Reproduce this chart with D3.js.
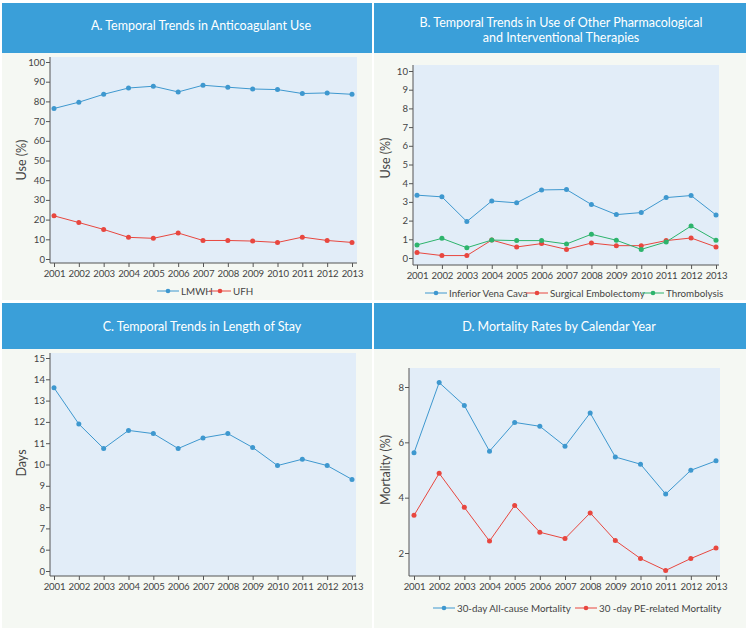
<!DOCTYPE html>
<html><head><meta charset="utf-8">
<script src="https://cdn.jsdelivr.net/npm/d3@7"></script>
<style>
html,body{margin:0;padding:0;background:#ffffff;}
svg{display:block;font-family:Lato,"Open Sans",sans-serif;}
</style></head>
<body><svg id="c" width="748" height="628"></svg>
<script>
const years = [2001,2002,2003,2004,2005,2006,2007,2008,2009,2010,2011,2012,2013];

// Panel A
const lmwh = [76.4,79.6,83.6,86.8,87.7,84.8,88.2,87.2,86.3,86.0,84.0,84.3,83.6];
const ufh  = [21.9,18.5,15.0,11.0,10.5,13.2,9.4,9.4,9.1,8.4,11.1,9.4,8.4];
const ticksA = [0,10,20,30,40,50,60,70,80,90,100];

// Panel B
const ivc = [3.36,3.27,1.95,3.05,2.95,3.64,3.66,2.86,2.32,2.43,3.23,3.34,2.30];
const surgical = [0.29,0.13,0.13,0.96,0.59,0.77,0.46,0.80,0.66,0.66,0.93,1.07,0.59];
const thrombolysis = [0.70,1.05,0.55,0.96,0.93,0.93,0.75,1.27,0.95,0.46,0.86,1.71,0.95];
const ticksB = [0,1,2,3,4,5,6,7,8,9,10];

// Panel C
const stayDays = [13.6,11.9,10.75,11.6,11.45,10.75,11.25,11.45,10.8,9.95,10.25,9.95,9.3];
const ticksC = [0,6,7,8,9,10,11,12,13,14,15];

// Panel D
const allCause = [5.62,8.16,7.33,5.68,6.72,6.58,5.86,7.06,5.47,5.21,4.13,4.99,5.33];
const peRelated = [3.36,4.88,3.65,2.43,3.72,2.75,2.52,3.45,2.45,1.80,1.37,1.80,2.18];
const ticksD = [2,4,6,8];

const BLUE = "#3e98cf", RED = "#e8473f", GREEN = "#2db46c";
const HEADER = "#3a9fd9", BODY = "#f5f8f3", PLOT = "#e2edf8", AXIS = "#555", TXT = "#444";
const TICKFONT = 9.6;

const svg = d3.select("#c");

const panels = [
  {x:2, y:3, w:370, h:297, hh:50},
  {x:374, y:3, w:372, h:297, hh:50},
  {x:2, y:303, w:370, h:325, hh:46},
  {x:374, y:303, w:372, h:325, hh:46}
];
panels.forEach(p => {
  svg.append("rect").attr("x",p.x).attr("y",p.y).attr("width",p.w).attr("height",p.h).attr("fill",BODY);
  svg.append("rect").attr("x",p.x).attr("y",p.y).attr("width",p.w).attr("height",p.hh).attr("fill",HEADER);
});

function title(lines, cx, y0, dy) {
  lines.forEach((t,i) => svg.append("text").attr("x",cx).attr("y",y0+i*dy)
    .attr("text-anchor","middle").attr("fill","#fff").attr("font-size",12.5).text(t));
}
title(["A. Temporal Trends in Anticoagulant Use"], 201, 30, 0);
title(["B. Temporal Trends in Use of Other Pharmacological","and Interventional Therapies"], 561, 27, 15);
title(["C. Temporal Trends in Length of Stay"], 202, 331, 0);
title(["D. Mortality Rates by Calendar Year"], 559, 331, 0);

function styleAxes(ya, xa) {
  [ya,xa].forEach(a => {
    a.selectAll(".domain,line").attr("stroke",AXIS).attr("stroke-width",1);
    a.selectAll("text").attr("fill",TXT).attr("font-size",TICKFONT)
      .attr("font-family","Lato,'Open Sans',sans-serif");
  });
  ya.selectAll("text").attr("x",-5);
  xa.selectAll("text").attr("y",7).attr("letter-spacing",-0.15);
}

function drawPanel(cfg, y) {
  const g = svg.append("g");
  const x = d3.scaleLinear().domain([2001,2013]).range(cfg.xr);
  g.append("rect").attr("x",cfg.px[0]).attr("y",cfg.py[0])
    .attr("width",cfg.px[1]-cfg.px[0]).attr("height",cfg.py[1]-cfg.py[0]).attr("fill",PLOT);
  const ya = g.append("g").attr("transform",`translate(${cfg.px[0]},0)`)
    .call(d3.axisLeft(y).tickValues(cfg.ticks).tickSize(4).tickSizeOuter(0).tickFormat(d3.format("d")));
  ya.select(".domain").attr("d",`M0,${cfg.py[0]}V${cfg.py[1]}`);
  const xa = g.append("g").attr("transform",`translate(0,${cfg.py[1]})`)
    .call(d3.axisBottom(x).tickValues(years).tickSize(4).tickSizeOuter(0).tickFormat(d3.format("d")));
  xa.select(".domain").attr("d",`M${cfg.px[0]},0H${cfg.px[1]}`);
  styleAxes(ya, xa);
  g.append("text").attr("transform",`translate(${cfg.lab[0]},${cfg.lab[1]}) rotate(-90)`)
    .attr("text-anchor","middle").attr("fill",TXT).attr("font-size",12.5).text(cfg.ylabel);
  const line = d3.line().x((d,i)=>x(years[i])).y(d=>y(d));
  cfg.series.forEach(s => {
    g.append("path").datum(s.v).attr("d",line).attr("fill","none").attr("stroke",s.c).attr("stroke-width",1);
    g.selectAll(null).data(s.v).enter().append("circle")
      .attr("cx",(d,i)=>x(years[i])).attr("cy",d=>y(d)).attr("r",2.5).attr("fill",s.c);
  });
  (cfg.legend||[]).forEach(l => {
    g.append("line").attr("x1",l.x).attr("x2",l.x+22).attr("y1",l.y).attr("y2",l.y).attr("stroke",l.c).attr("stroke-width",1);
    g.append("circle").attr("cx",l.x+11).attr("cy",l.y).attr("r",2.3).attr("fill",l.c);
    g.append("text").attr("x",l.x+24).attr("y",l.y+3.5).attr("fill",TXT).attr("font-size",9.8).text(l.t);
  });
}

drawPanel({xr:[54,352], px:[50,357], py:[57,263], ticks:ticksA,
  ylabel:"Use (%)", lab:[26,160],
  series:[{v:lmwh,c:BLUE},{v:ufh,c:RED}],
  legend:[{x:157,y:291,c:BLUE,t:"LMWH"},{x:209,y:291,c:RED,t:"UFH"}]},
  d3.scaleLinear().domain([0,100]).range([259,62]));

drawPanel({xr:[417,716], px:[413,719], py:[65,265], ticks:ticksB,
  ylabel:"Use (%)", lab:[390,158],
  series:[{v:ivc,c:BLUE},{v:surgical,c:RED},{v:thrombolysis,c:GREEN}],
  legend:[{x:425,y:293,c:BLUE,t:"Inferior Vena Cava"},{x:526,y:293,c:RED,t:"Surgical Embolectomy"},{x:642,y:293,c:GREEN,t:"Thrombolysis"}]},
  d3.scaleLinear().domain([0,10]).range([258,71]));

// Panel C: broken axis (0, then 6..15 evenly spaced)
drawPanel({xr:[54,352], px:[50,356], py:[353,576], ticks:ticksC,
  ylabel:"Days", lab:[26,463],
  series:[{v:stayDays,c:BLUE}]},
  d3.scaleLinear().domain([0,6,15]).range([571,549.7,358]));

drawPanel({xr:[414,716], px:[409,720], py:[368,576], ticks:ticksD,
  ylabel:"Mortality (%)", lab:[390,470],
  series:[{v:allCause,c:BLUE},{v:peRelated,c:RED}],
  legend:[{x:433,y:608,c:BLUE,t:"30-day All-cause Mortality"},{x:575,y:608,c:RED,t:"30 -day PE-related Mortality"}]},
  d3.scaleLinear().domain([2,8]).range([553,387]));
</script></body></html>
